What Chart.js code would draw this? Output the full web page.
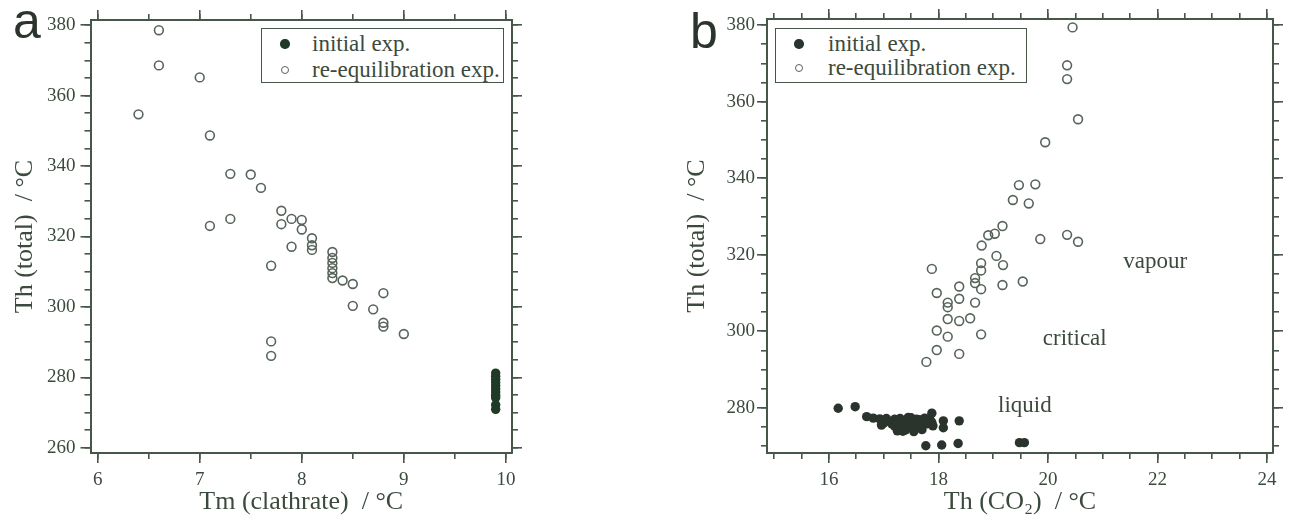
<!DOCTYPE html>
<html>
<head>
<meta charset="utf-8">
<title>Th vs Tm / Th(CO2)</title>
<script src="https://cdn.jsdelivr.net/npm/chart.js@4.4.1/dist/chart.umd.min.js"></script>
<style>
  html, body { margin: 0; padding: 0; background: #fff; }
  body { width: 1293px; height: 521px; position: relative; overflow: hidden; font-family: 'Liberation Serif', serif; color: #3b4a3c; }
  canvas { position: absolute; top: 0; }
  #chartA { left: 0; }
  #chartB { left: 646px; }
  .panel-tag { position: absolute; font-family: 'Liberation Sans', Arial, sans-serif; font-size: 50px; line-height: 50px; color: #2c352d; }
  .legend { position: absolute; border: 1.8px solid #46574a; box-sizing: border-box; background: #fff; }
  .legend .row { position: absolute; height: 26px; line-height: 26px; font-size: 23px; white-space: nowrap; }
  .legend .sym { position: absolute; border-radius: 50%; box-sizing: border-box; }
</style>
</head>
<body>
<div class="panel-tag" style="left:13px; top:-4px;">a</div>
<div class="panel-tag" style="left:690px; top:6px;">b</div>
<canvas id="chartA" width="646" height="521"></canvas>
<canvas id="chartB" width="647" height="521"></canvas>
<div id="legendA" class="legend"></div>
<div id="legendB" class="legend"></div>
<script>
// panel a: Th(total) against Tm(clathrate)
const tmClathrateInitial = [9.9, 9.9, 9.9, 9.9, 9.9, 9.9, 9.9, 9.9, 9.9, 9.9, 9.9];
const thTotalInitialA = [281.2, 280.3, 279.4, 278.5, 277.6, 276.7, 275.8, 274.9, 274.2, 272.2, 270.9];

const tmClathrateReeq = [6.6, 6.6, 7.0, 6.4, 7.1, 7.3, 7.5, 7.6, 7.1, 7.3,
  7.8, 7.8, 7.9, 8.0, 8.0, 7.9, 8.1, 8.1, 8.1, 8.3,
  8.3, 8.3, 8.3, 8.3, 8.3, 8.4, 8.5, 8.8, 8.5, 8.7,
  8.8, 8.8, 9.0, 7.7, 7.7, 7.7];
const thTotalReeqA = [378.6, 368.6, 365.2, 354.7, 348.7, 337.8, 337.6, 333.8, 323.0, 325.0,
  327.3, 323.5, 325.0, 324.7, 322.0, 317.1, 319.5, 317.5, 316.2, 315.6,
  313.9, 312.5, 311.0, 309.6, 308.2, 307.5, 306.5, 303.9, 300.3, 299.3,
  295.5, 294.4, 292.3, 311.7, 290.2, 286.1];

// panel b: Th(total) against Th(CO2)
const thCO2Initial = [16.17, 16.48, 16.69, 16.81, 16.93, 16.96, 17.0, 17.05, 17.1, 17.15,
  17.2, 17.2, 17.25, 17.25, 17.3, 17.3, 17.35, 17.35, 17.4, 17.4,
  17.45, 17.45, 17.5, 17.5, 17.55, 17.55, 17.6, 17.6, 17.65, 17.65,
  17.7, 17.7, 17.75, 17.8, 17.85, 17.9, 17.88, 17.88, 18.09, 18.09,
  18.38, 17.77, 18.06, 18.36, 19.48, 19.57];
const thTotalInitialB = [279.9, 280.3, 277.7, 277.3, 277.1, 275.5, 276.0, 277.2, 276.5, 275.8,
  277.0, 275.2, 276.3, 274.0, 274.6, 277.2, 275.7, 273.9, 276.8, 274.2,
  275.3, 277.5, 276.2, 277.4, 274.8, 273.8, 276.0, 277.0, 275.2, 276.9,
  276.4, 274.3, 277.3, 275.8, 276.8, 275.3, 278.6, 276.2, 276.6, 274.8,
  276.6, 270.1, 270.3, 270.7, 270.9, 270.9];

const thCO2Reeq = [20.45, 20.35, 20.35, 20.55, 19.95, 19.47, 19.77, 19.36, 19.65, 19.17,
  19.03, 18.91, 19.86, 20.35, 20.55, 18.79, 19.06, 19.18, 19.17, 19.54,
  17.88, 17.97, 17.97, 17.97, 17.78, 18.17, 18.17, 18.17, 18.17, 18.38,
  18.38, 18.38, 18.38, 18.58, 18.67, 18.67, 18.67, 18.78, 18.78, 18.78,
  18.78];
const thTotalReeqB = [379.4, 369.5, 365.9, 355.4, 349.4, 338.2, 338.4, 334.3, 333.4, 327.5,
  325.5, 325.1, 324.1, 325.2, 323.4, 322.4, 319.7, 317.3, 312.1, 313.0,
  316.3, 310.0, 300.2, 295.1, 292.0, 298.6, 307.5, 306.3, 303.2, 311.7,
  308.5, 302.7, 294.1, 303.4, 307.5, 313.9, 312.6, 317.8, 315.9, 311.0,
  299.2];

const regionLabels = ['vapour', 'critical', 'liquid'];
const regionX = [21.96, 20.49, 19.58];
const regionY = [318.1, 298.0, 280.5];

// axis ticks
const xMajorA = [6, 7, 8, 9, 10];
const xMinorA = [6, 6.5, 7, 7.5, 8, 8.5, 9, 9.5, 10];
const yMajorA = [260, 280, 300, 320, 340, 360, 380];
const yMinorA = [260, 265, 270, 275, 280, 285, 290, 295, 300, 305, 310, 315, 320,
  325, 330, 335, 340, 345, 350, 355, 360, 365, 370, 375, 380];
const xMajorB = [16, 18, 20, 22, 24];
const xMinorB = [15, 15.5, 16, 16.5, 17, 17.5, 18, 18.5, 19, 19.5, 20, 20.5, 21,
  21.5, 22, 22.5, 23, 23.5, 24];
const yMajorB = [280, 300, 320, 340, 360, 380];
const yMinorB = [270, 275, 280, 285, 290, 295, 300, 305, 310, 315, 320, 325, 330,
  335, 340, 345, 350, 355, 360, 365, 370, 375, 380];

const seriesNames = ['initial exp.', 're-equilibration exp.'];

const serif = "'Liberation Serif', 'Times New Roman', serif";
const textColor = '#3b4a3c';
const axisColor = '#46574a';
const openColor = '#56645a';

function points(xs, ys) {
  return xs.map((x, i) => ({ x: x, y: ys[i] }));
}

function makeScale(o) {
  return {
    type: 'linear',
    position: o.position,
    min: o.min,
    max: o.max,
    weight: o.weight,
    afterBuildTicks: s => { s.ticks = o.values.map(v => ({ value: v })); },
    afterFit: s => {
      if (s.isHorizontal()) s.height = o.thickness;
      else s.width = o.thickness;
    },
    ticks: {
      display: !!o.labels,
      autoSkip: false,
      maxRotation: 0,
      padding: o.labelPad || 0,
      color: textColor,
      font: { family: serif, size: 19 },
    },
    grid: { drawOnChartArea: false, drawTicks: true, tickLength: o.tickLength, color: axisColor, lineWidth: 1.6 },
    border: { display: !!o.border, color: axisColor, width: 2 },
    title: o.title
      ? { display: true, text: o.title, color: textColor, font: { family: serif, size: 26 }, padding: o.titlePad }
      : { display: false },
  };
}

const regionLabelPlugin = {
  id: 'regionLabels',
  afterDatasetsDraw(chart, args, opts) {
    if (!opts.labels) return;
    const { ctx, scales } = chart;
    ctx.save();
    ctx.font = '23px ' + serif;
    ctx.fillStyle = textColor;
    ctx.textAlign = 'center';
    ctx.textBaseline = 'middle';
    opts.labels.forEach((t, i) => {
      ctx.fillText(t, scales.x.getPixelForValue(opts.xs[i]), scales.y.getPixelForValue(opts.ys[i]));
    });
    ctx.restore();
  },
};

function buildPanel(canvasId, p) {
  const ctx = document.getElementById(canvasId).getContext('2d');
  return new Chart(ctx, {
    type: 'scatter',
    data: {
      datasets: [{
        label: seriesNames[0],
        data: points(p.initX, p.initY),
        pointStyle: 'circle',
        pointRadius: 4.7,
        pointBorderWidth: 0,
        backgroundColor: p.fillColor,
        borderColor: p.fillColor,
      }, {
        label: seriesNames[1],
        data: points(p.reX, p.reY),
        pointStyle: 'circle',
        pointRadius: 4.4,
        pointBorderWidth: 1.6,
        backgroundColor: 'rgba(255,255,255,0)',
        borderColor: openColor,
      }],
    },
    options: {
      responsive: false,
      animation: false,
      devicePixelRatio: 1,
      layout: { padding: 0 },
      plugins: {
        legend: { display: false },
        tooltip: { enabled: false },
        regionLabels: p.regions || {},
      },
      scales: {
        x: makeScale({ position: 'bottom', weight: 1, min: p.xMin, max: p.xMax, values: p.xMajor, tickLength: 10,
          thickness: p.bottom, labels: true, labelPad: 6, border: true, title: p.xTitle, titlePad: { top: 0, bottom: 3.4 } }),
        xMinor: makeScale({ position: 'bottom', weight: 0, min: p.xMin, max: p.xMax, values: p.xMinor, tickLength: 6, thickness: 0 }),
        xTop: makeScale({ position: 'top', weight: 1, min: p.xMin, max: p.xMax, values: p.xMajor, tickLength: 10, thickness: p.top, border: true }),
        xTopMinor: makeScale({ position: 'top', weight: 0, min: p.xMin, max: p.xMax, values: p.xMinor, tickLength: 6, thickness: 0 }),
        y: makeScale({ position: 'left', weight: 1, min: p.yMin, max: p.yMax, values: p.yMajor, tickLength: 10,
          thickness: p.left, labels: true, labelPad: p.yLabelPad, border: true, title: 'Th (total)  / °C', titlePad: { top: p.yTitlePad, bottom: 0 } }),
        yMinor: makeScale({ position: 'left', weight: 0, min: p.yMin, max: p.yMax, values: p.yMinor, tickLength: 6, thickness: 0 }),
        yRight: makeScale({ position: 'right', weight: 1, min: p.yMin, max: p.yMax, values: p.yMajor, tickLength: 10, thickness: p.right, border: true }),
        yRightMinor: makeScale({ position: 'right', weight: 0, min: p.yMin, max: p.yMax, values: p.yMinor, tickLength: 6, thickness: 0 }),
      },
    },
    plugins: [regionLabelPlugin],
  });
}

function buildLegend(el, chart, box) {
  el.style.left = box.left + 'px';
  el.style.top = box.top + 'px';
  el.style.width = box.width + 'px';
  el.style.height = box.height + 'px';
  chart.data.datasets.forEach((ds, i) => {
    const sym = document.createElement('span');
    sym.className = 'sym';
    const d = ds.pointRadius * 2;
    sym.style.width = d + 'px';
    sym.style.height = d + 'px';
    sym.style.left = (box.symX - ds.pointRadius) + 'px';
    sym.style.top = (box.rowY[i] - ds.pointRadius) + 'px';
    if (ds.pointBorderWidth > 0) {
      sym.style.border = ds.pointBorderWidth + 'px solid ' + ds.borderColor;
    } else {
      sym.style.background = ds.backgroundColor;
    }
    el.appendChild(sym);
    const row = document.createElement('div');
    row.className = 'row';
    row.style.left = box.textX + 'px';
    row.style.top = (box.rowY[i] - 13) + 'px';
    row.textContent = ds.label;
    el.appendChild(row);
  });
}

const chartA = buildPanel('chartA', {
  initX: tmClathrateInitial, initY: thTotalInitialA,
  reX: tmClathrateReeq, reY: thTotalReeqA,
  fillColor: '#1f3a27',
  xMin: 5.93, xMax: 10.06, yMin: 258.5, yMax: 381.5,
  xMajor: xMajorA, xMinor: xMinorA, yMajor: yMajorA, yMinor: yMinorA,
  left: 90.5, right: 134, top: 20, bottom: 68,
  yLabelPad: 5, yTitlePad: 9.4,
  xTitle: 'Tm (clathrate)  / °C',
});

const chartB = buildPanel('chartB', {
  initX: thCO2Initial, initY: thTotalInitialB,
  reX: thCO2Reeq, reY: thTotalReeqB,
  fillColor: '#2a332c',
  xMin: 14.87, xMax: 24.11, yMin: 268.2, yMax: 381.6,
  xMajor: xMajorB, xMinor: xMinorB, yMajor: yMajorB, yMinor: yMinorB,
  left: 121, right: 20, top: 19, bottom: 68,
  yLabelPad: 2, yTitlePad: 35.4,
  xTitle: 'Th (CO₂)  / °C',
  regions: { labels: regionLabels, xs: regionX, ys: regionY },
});

buildLegend(document.getElementById('legendA'), chartA,
  { left: 261, top: 28, width: 243, height: 55, symX: 23, textX: 50, rowY: [15, 41] });
buildLegend(document.getElementById('legendB'), chartB,
  { left: 775, top: 28, width: 252, height: 55, symX: 23, textX: 52, rowY: [15, 39] });
</script>
</body>
</html>
